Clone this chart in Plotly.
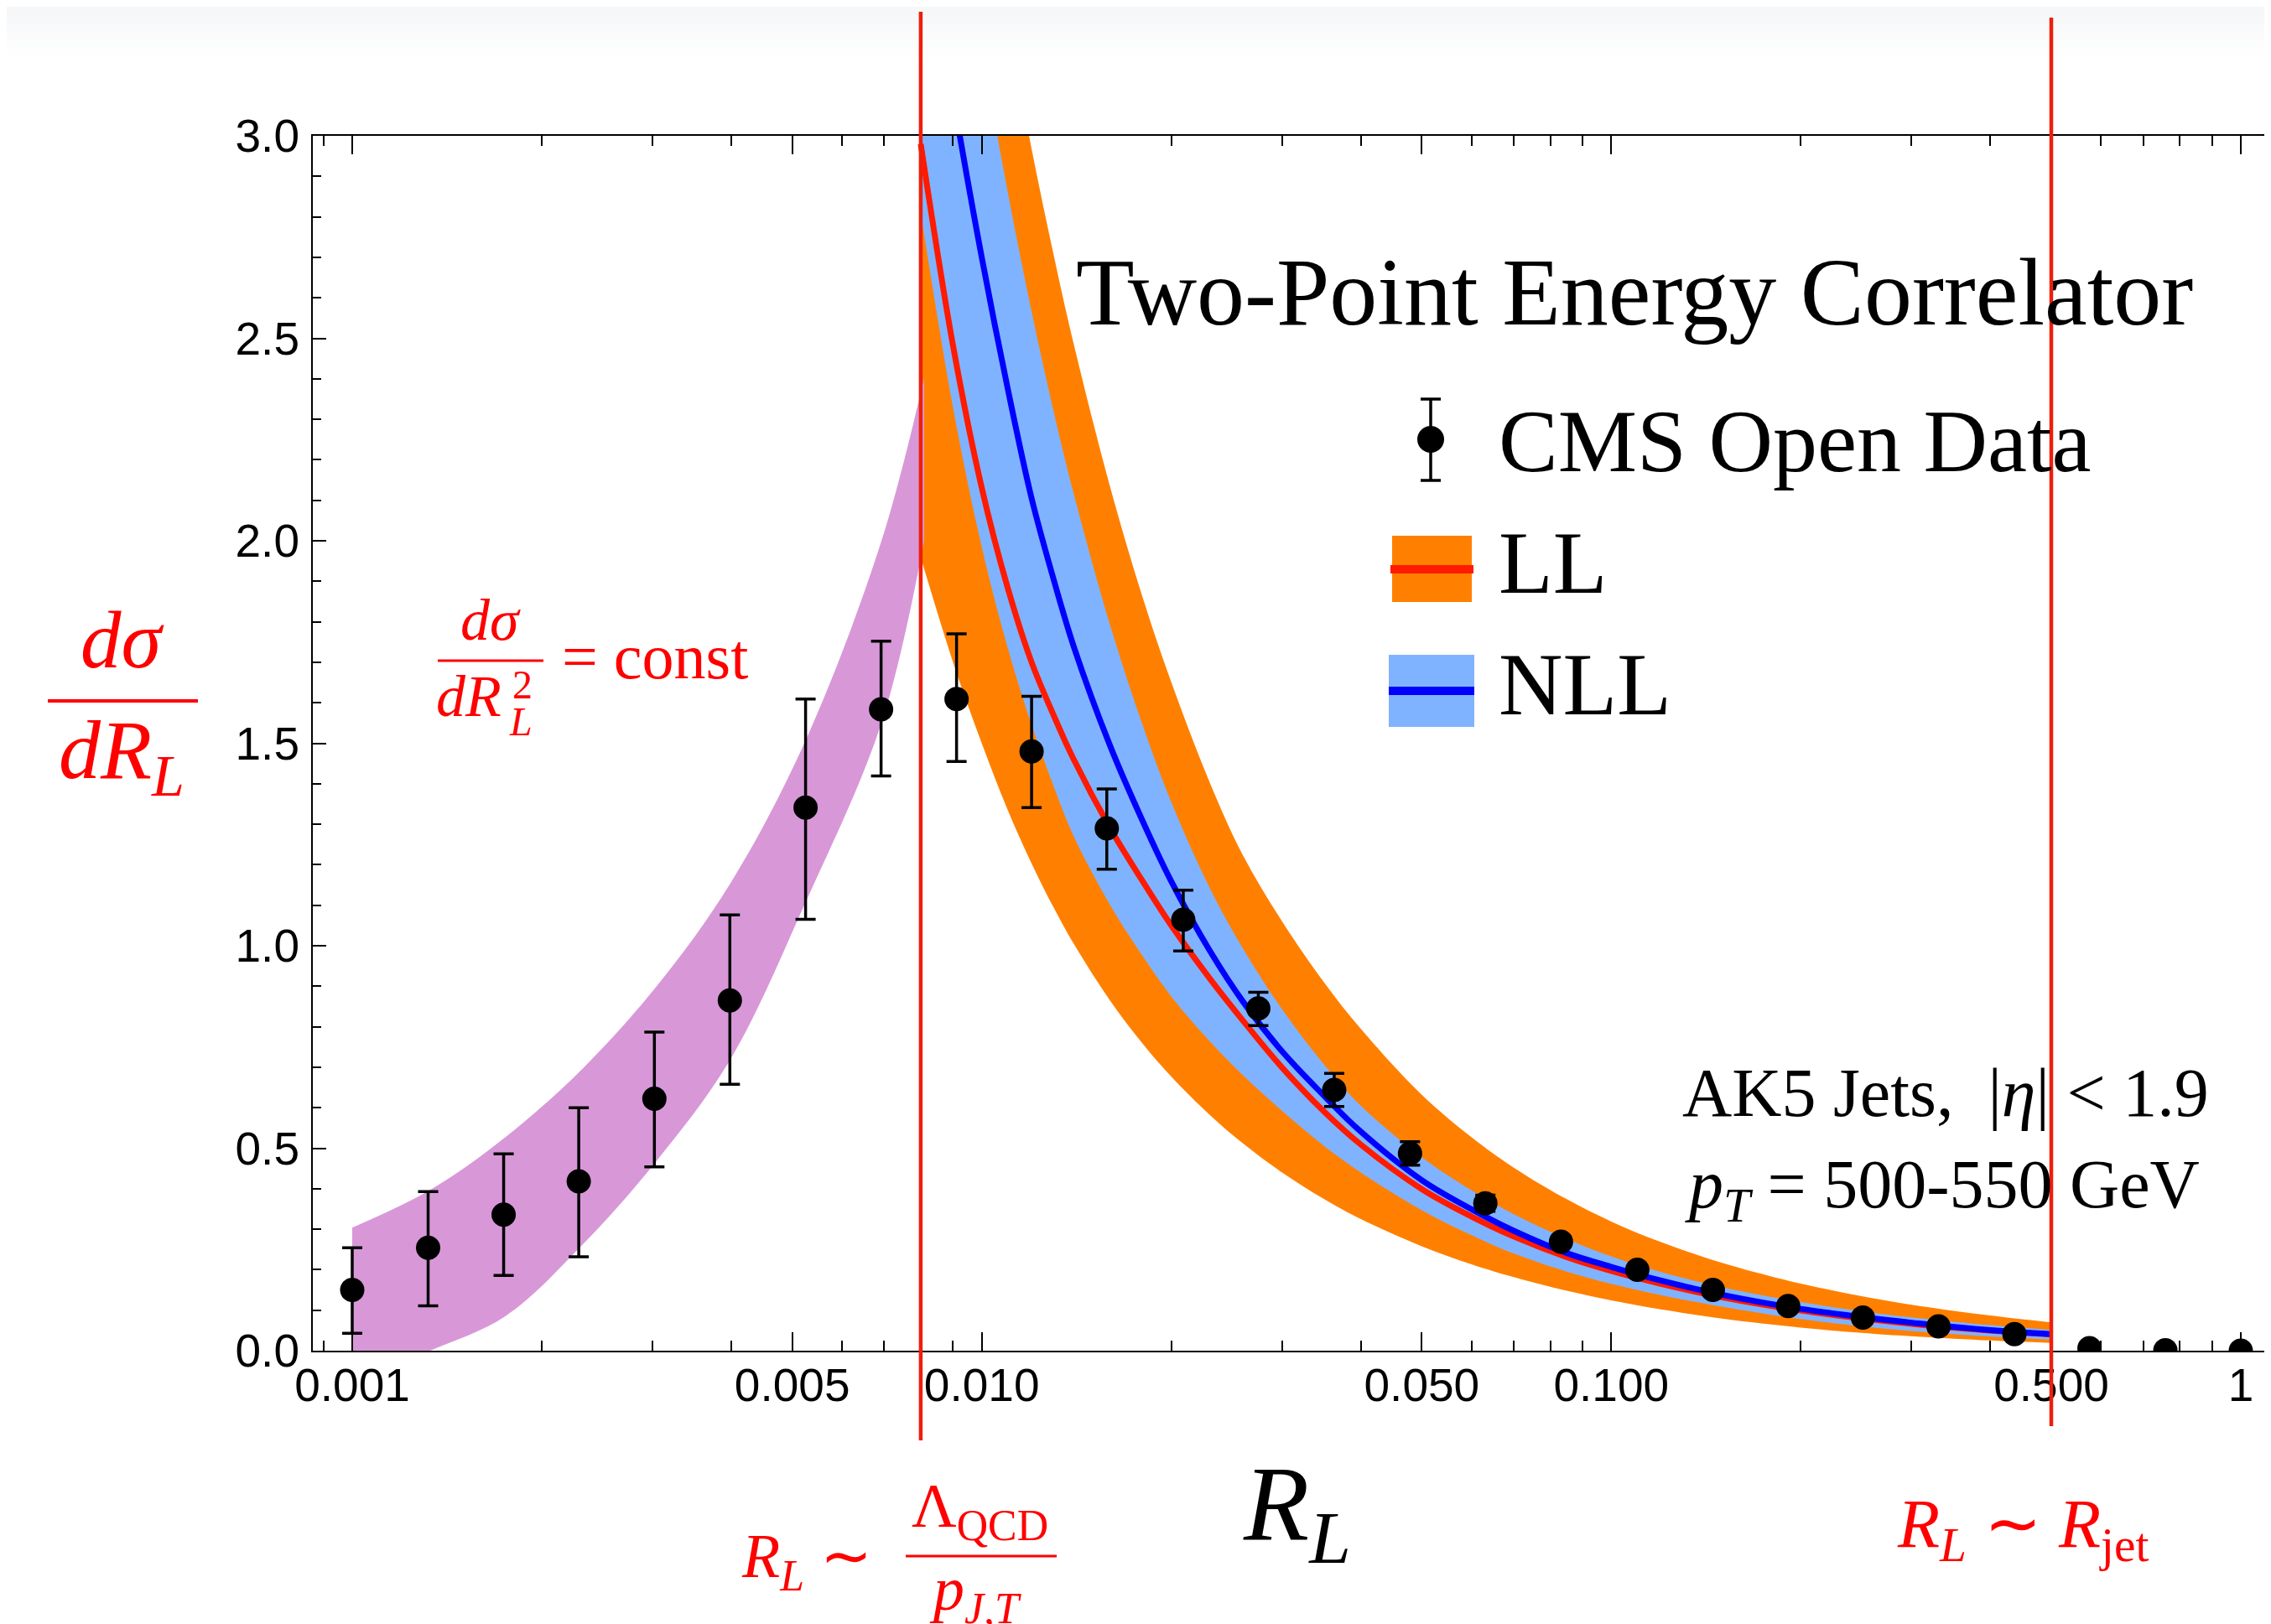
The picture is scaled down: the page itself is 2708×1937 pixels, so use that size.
import numpy as np
import plotly.graph_objects as go

# ---------------- data ----------------
R_data = [0.001, 0.00132, 0.00174, 0.00229, 0.00302, 0.00398, 0.00525, 0.00692, 0.00912,
          0.0120, 0.0158, 0.0209, 0.0275, 0.0363, 0.0479, 0.0631, 0.0832, 0.110, 0.145,
          0.191, 0.251, 0.331, 0.437, 0.575, 0.759, 1.0]
E2C_data = [0.150, 0.254, 0.336, 0.418, 0.622, 0.865, 1.341, 1.584, 1.609, 1.480, 1.290,
            1.064, 0.845, 0.644, 0.487, 0.364, 0.269, 0.200, 0.150, 0.110, 0.082, 0.060,
            0.041, 0.006, 0.001, 0.000]
err_plus = [0.104, 0.139, 0.150, 0.182, 0.165, 0.211, 0.268, 0.168, 0.161, 0.136, 0.097,
            0.073, 0.040, 0.041, 0.029, 0.020, 0.012, 0.009, 0.007, 0.006, 0.005, 0.004,
            0.003, 0.002, 0.001, 0.001]
err_minus = [0.107, 0.143, 0.150, 0.186, 0.168, 0.207, 0.276, 0.165, 0.154, 0.139, 0.101,
             0.077, 0.042, 0.041, 0.029, 0.020, 0.012, 0.009, 0.007, 0.006, 0.005, 0.004,
             0.003, 0.002, 0.001, 0.001]

# perturbative bands (LL orange, NLL light blue)
R_band = [0.008, 0.009, 0.010, 0.011, 0.012, 0.013, 0.014, 0.016, 0.018, 0.020, 0.023,
          0.026, 0.030, 0.035, 0.040, 0.050, 0.060, 0.070, 0.085, 0.100, 0.120, 0.150,
          0.200, 0.250, 0.300, 0.400, 0.500]
LL_lo = [1.959, 1.701, 1.500, 1.335, 1.203, 1.095, 1.005, 0.864, 0.759, 0.677, 0.583,
         0.512, 0.440, 0.374, 0.325, 0.258, 0.213, 0.1815, 0.148, 0.1244, 0.1018, 0.0793,
         0.0571, 0.0441, 0.0356, 0.0252, 0.0192]
LL_hi = [4.73, 4.13, 3.66, 3.28, 2.968, 2.708, 2.486, 2.132, 1.862, 1.651, 1.405, 1.223,
         1.060, 0.909, 0.795, 0.632, 0.527, 0.452, 0.374, 0.319, 0.268, 0.2168, 0.1654,
         0.1344, 0.1134, 0.0868, 0.0700]
LL_mid = [2.98, 2.483, 2.131, 1.883, 1.70, 1.57, 1.46, 1.29, 1.16, 1.05, 0.92, 0.815,
          0.699, 0.590, 0.509, 0.399, 0.331, 0.282, 0.231, 0.197, 0.165, 0.132, 0.0993,
          0.0795, 0.0662, 0.0497, 0.040]
NLL_lo = [2.81, 2.330, 1.985, 1.735, 1.545, 1.395, 1.270, 1.100, 0.975, 0.875, 0.765,
          0.680, 0.592, 0.505, 0.440, 0.347, 0.285, 0.240, 0.195, 0.165, 0.137, 0.1087,
          0.0779, 0.0602, 0.0487, 0.0350, 0.027]
NLL_hi = [4.26, 3.68, 3.22, 2.861, 2.566, 2.321, 2.116, 1.791, 1.546, 1.355, 1.144, 0.993,
          0.843, 0.706, 0.605, 0.478, 0.396, 0.337, 0.276, 0.233, 0.194, 0.157, 0.120,
          0.0975, 0.0823, 0.0629, 0.051]
NLL_mid = [3.61, 3.10, 2.70, 2.375, 2.105, 1.906, 1.739, 1.493, 1.309, 1.159, 0.989, 0.862,
           0.739, 0.629, 0.541, 0.421, 0.349, 0.296, 0.241, 0.207, 0.173, 0.138, 0.1033,
           0.0833, 0.0691, 0.0507, 0.041]

# free-hadron (dσ/dR² = const) band
R_np = [0.001, 0.00133, 0.00175, 0.0023, 0.00303, 0.00399, 0.00526, 0.00693, 0.0081]
NP_hi = [0.304, 0.397, 0.527, 0.690, 0.896, 1.155, 1.510, 2.000, 2.402]
NP_lo = [-0.08, 0.0, 0.085, 0.255, 0.465, 0.720, 1.110, 1.550, 2.000]

# vertical markers
R_transitions = [0.008, 0.5]

# ticks
x_major = [0.001, 0.005, 0.01, 0.05, 0.1, 0.5, 1]
x_labels = ["0.001", "0.005", "0.010", "0.050", "0.100", "0.500", "1"]
x_minor = [0.0009, 0.002, 0.003, 0.004, 0.006, 0.007, 0.008, 0.009,
           0.02, 0.03, 0.04, 0.06, 0.07, 0.08, 0.09,
           0.2, 0.3, 0.4, 0.6, 0.7, 0.8, 0.9]
y_major = [0.0, 0.5, 1.0, 1.5, 2.0, 2.5, 3.0]
y_labels = ["0.0", "0.5", "1.0", "1.5", "2.0", "2.5", "3.0"]
y_minor = [round(0.1 * i, 1) for i in range(1, 30) if i % 5 != 0]

# ---------------- style ----------------
W, H = 2708, 1937
BODY = 8  # default page margin around the plot div
L_PX, R_PX, T_PX, B_PX = 373, 2708, 162, 1611   # plot area in window pixels
X_RANGE = [-3.0626, 0.048]
ORANGE = "#FF8000"
LBLUE = "#80B3FF"
BLUE = "#0000FF"
RED_LINE = "#FF1A00"
VRED = "#EE1E0A"
TXT_RED = "#FF0000"
PURPLE = "#D898D8"
SERIF = "Liberation Serif"
SANS = "Liberation Sans"


def px(x):
    return (x - L_PX) / (R_PX - L_PX)


def py(y):
    return (B_PX - y) / (B_PX - T_PX)


def xdata_to_paper(r):
    return (np.log10(r) - X_RANGE[0]) / (X_RANGE[1] - X_RANGE[0])


fig = go.Figure()

# LL band
fig.add_trace(go.Scatter(x=R_band, y=LL_lo, mode="lines", line=dict(width=0, color=ORANGE, shape="spline"),
                         hoverinfo="skip"))
fig.add_trace(go.Scatter(x=R_band, y=LL_hi, mode="lines", line=dict(width=0, color=ORANGE, shape="spline"),
                         fill="tonexty", fillcolor=ORANGE, hoverinfo="skip"))
# NLL band
fig.add_trace(go.Scatter(x=R_band, y=NLL_lo, mode="lines", line=dict(width=0, color=LBLUE, shape="spline"),
                         hoverinfo="skip"))
fig.add_trace(go.Scatter(x=R_band, y=NLL_hi, mode="lines", line=dict(width=0, color=LBLUE, shape="spline"),
                         fill="tonexty", fillcolor=LBLUE, hoverinfo="skip"))
# central curves
fig.add_trace(go.Scatter(x=R_band, y=LL_mid, mode="lines", line=dict(width=7, color=RED_LINE, shape="spline"),
                         name="LL"))
fig.add_trace(go.Scatter(x=R_band, y=NLL_mid, mode="lines", line=dict(width=7, color=BLUE, shape="spline"),
                         name="NLL"))
# free hadron band
fig.add_trace(go.Scatter(x=R_np, y=NP_lo, mode="lines", line=dict(width=0, color=PURPLE, shape="spline"),
                         hoverinfo="skip"))
fig.add_trace(go.Scatter(x=R_np, y=NP_hi, mode="lines", line=dict(width=0, color=PURPLE, shape="spline"),
                         fill="tonexty", fillcolor=PURPLE, hoverinfo="skip"))
# data
fig.add_trace(go.Scatter(
    x=R_data, y=E2C_data, mode="markers", name="CMS Open Data",
    marker=dict(size=29, color="black", line=dict(width=0)),
    error_y=dict(type="data", symmetric=False, array=err_plus, arrayminus=err_minus,
                 color="black", thickness=3.5, width=12),
))

shapes = []
# faint grey fade at the very top of the page
for i, c in enumerate(["#F5F7F9", "#F7F8FA", "#F9FAFB", "#FBFBFC", "#FCFDFD", "#FEFEFE"]):
    shapes.append(dict(type="rect", xref="paper", yref="paper", x0=px(0), x1=px(2708),
                       y0=py(8 + 10 * (i + 1)), y1=py(8 + 10 * i), fillcolor=c,
                       line=dict(width=0), layer="below"))

# transition lines (positioned through the x-axis log scale)
for r, (ytop, ybot) in zip(R_transitions, [(14, 1718), (21, 1701)]):
    xp = xdata_to_paper(r)
    shapes.append(dict(type="line", xref="paper", yref="paper", x0=xp, x1=xp,
                       y0=py(ybot), y1=py(ytop), line=dict(color=VRED, width=4.5), layer="above"))

# legend glyphs
shapes += [
    dict(type="rect", xref="paper", yref="paper", x0=px(1660), x1=px(1755), y0=py(718), y1=py(639),
         fillcolor=ORANGE, line=dict(width=0)),
    dict(type="line", xref="paper", yref="paper", x0=px(1658), x1=px(1757), y0=py(679), y1=py(679),
         line=dict(color=RED_LINE, width=10)),
    dict(type="rect", xref="paper", yref="paper", x0=px(1656), x1=px(1758), y0=py(867), y1=py(781),
         fillcolor=LBLUE, line=dict(width=0)),
    dict(type="line", xref="paper", yref="paper", x0=px(1656), x1=px(1758), y0=py(824), y1=py(824),
         line=dict(color=BLUE, width=10)),
    dict(type="line", xref="paper", yref="paper", x0=px(1706), x1=px(1706), y0=py(573), y1=py(476),
         line=dict(color="black", width=3.5)),
    dict(type="line", xref="paper", yref="paper", x0=px(1694), x1=px(1718), y0=py(476), y1=py(476),
         line=dict(color="black", width=3.5)),
    dict(type="line", xref="paper", yref="paper", x0=px(1694), x1=px(1718), y0=py(573), y1=py(573),
         line=dict(color="black", width=3.5)),
    dict(type="circle", xref="paper", yref="paper", x0=px(1690), x1=px(1722), y0=py(540), y1=py(508),
         fillcolor="black", line=dict(width=0)),
]
# fraction bars
shapes += [
    dict(type="line", xref="paper", yref="paper", x0=px(57), x1=px(236), y0=py(836), y1=py(836),
         line=dict(color=TXT_RED, width=4)),
    dict(type="line", xref="paper", yref="paper", x0=px(522), x1=px(648), y0=py(788), y1=py(788),
         line=dict(color=TXT_RED, width=3)),
    dict(type="line", xref="paper", yref="paper", x0=px(1080), x1=px(1260), y0=py(1856), y1=py(1856),
         line=dict(color=TXT_RED, width=3)),
]


def ann(text, x, y, size, color="black", xanchor="left", family=SERIF):
    return dict(text=text, xref="paper", yref="paper", x=px(x), y=py(y), xanchor=xanchor,
                yanchor="middle", showarrow=False, font=dict(family=family, size=size, color=color))


annotations = [
    ann("Two-Point Energy Correlator", 1281, 348, 114),
    ann("CMS Open Data", 1785, 526, 106),
    ann("LL", 1785, 671, 106),
    ann("NLL", 1785, 816, 106),
    ann("AK5 Jets,  |<i>η</i>| < 1.9", 2320, 1303, 82, xanchor="center"),
    ann("<i>p</i><sub><i>T</i></sub> = 500-550 GeV", 2316, 1418, 82, xanchor="center"),
    # axis titles
    ann("<i>R</i><sub><i>L</i></sub>", 1546, 1803, 128, xanchor="center"),
    ann("<i>dσ</i>", 146, 763, 97, TXT_RED, xanchor="center"),
    ann("<i>dR</i><sub><i>L</i></sub>", 145, 901, 100, TXT_RED, xanchor="center"),
    # dσ/dR_L^2 = const
    ann("<i>dσ</i>", 585, 739, 70, TXT_RED, xanchor="center"),
    ann("<i>dR</i>", 518, 830, 70, TXT_RED),
    ann("2", 609, 816, 48, TXT_RED),
    ann("<i>L</i>", 605, 860, 48, TXT_RED),
    ann("= const", 668, 783, 76, TXT_RED),
    # bottom scale annotations
    ann("<i>R</i><sub><i>L</i></sub> ∼", 882, 1861, 74, TXT_RED),
    ann("Λ<sub>QCD</sub>", 1168, 1801, 74, TXT_RED, xanchor="center"),
    ann("<i>p</i><sub><i>J,T</i></sub>", 1163, 1900, 74, TXT_RED, xanchor="center"),
    ann("<i>R</i><sub><i>L</i></sub> ∼ <i>R</i><sub>jet</sub>", 2260, 1823, 82, TXT_RED),
]

fig.update_layout(
    width=W, height=H, autosize=False,
    margin=dict(l=L_PX - BODY, r=W - (R_PX - BODY), t=T_PX - BODY, b=H - (B_PX - BODY), pad=0),
    paper_bgcolor="white", plot_bgcolor="white",
    showlegend=False,
    shapes=shapes, annotations=annotations,
)
fig.update_xaxes(
    type="log", range=X_RANGE,
    showline=True, linecolor="black", linewidth=2, mirror="ticks",
    ticks="inside", ticklen=22, tickwidth=1.5, tickcolor="black",
    tickmode="array", tickvals=x_major, ticktext=x_labels,
    tickfont=dict(family=SANS, size=55, color="black"),
    ticklabelstandoff=-8,
    minor=dict(tickmode="array", tickvals=x_minor, ticks="inside", ticklen=12, tickwidth=1.5,
               tickcolor="black", showgrid=False),
    showgrid=False, zeroline=False,
)
fig.update_yaxes(
    range=[0, 3.0],
    showline=True, linecolor="black", linewidth=2, mirror=False,
    ticks="inside", ticklen=16, tickwidth=1.5, tickcolor="black",
    tickmode="array", tickvals=y_major, ticktext=y_labels,
    tickfont=dict(family=SANS, size=55, color="black"),
    ticklabelstandoff=3,
    minor=dict(tickmode="array", tickvals=y_minor, ticks="inside", ticklen=10, tickwidth=1.5,
               tickcolor="black", showgrid=False),
    showgrid=False, zeroline=False,
)

fig.write_html("out.html")
